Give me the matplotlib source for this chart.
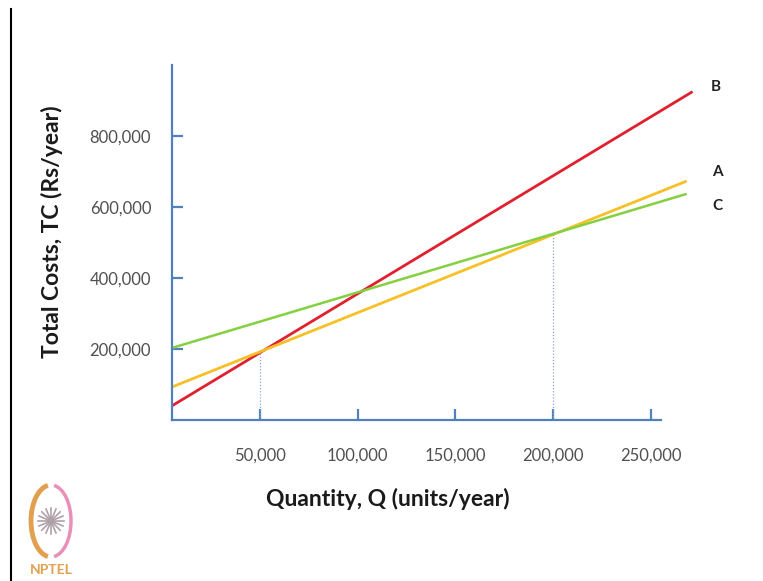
import matplotlib.pyplot as plt
from matplotlib.lines import Line2D
from matplotlib.patches import Arc, Circle
from matplotlib.ticker import FuncFormatter
import numpy as np

# quantity range covered by each cost line (units/year)
q_red = [5000, 271500]
q_other = [5000, 268500]

# total cost at the two ends of each line (Rs/year)
tc_a = [93000, 673000]
tc_b = [40000, 925000]
tc_c = [203000, 637000]

# break-even points marked with dotted drop lines
be_q = [50000, 200000]
be_tc = [193000, 524000]

x_ticks = [50000, 100000, 150000, 200000, 250000]
y_ticks = [200000, 400000, 600000, 800000]

W, H = 763, 581
fig = plt.figure(figsize=(W / 100, H / 100), dpi=100)
fig.patch.set_facecolor('white')
plt.rcParams['font.family'] = ['Lato', 'DejaVu Sans']

# axes box in pixels: left 172, right 699, top 65, bottom 420
ax = fig.add_axes([172 / W, (H - 420) / H, (699.4 - 172) / W, (420 - 65) / H])
ax.set_xlim(5000, 275000)
ax.set_ylim(0, 1000000)

axis_blue = '#4f81bd'
for side in ['top', 'right']:
    ax.spines[side].set_visible(False)
for side in ['left', 'bottom']:
    ax.spines[side].set_color(axis_blue)
    ax.spines[side].set_linewidth(1.6)
ax.spines['bottom'].set_bounds(5000, 255300)

ax.plot(q_red, tc_b, color='#e0202e', lw=2.0, solid_capstyle='butt')
ax.plot(q_other, tc_a, color='#f6c026', lw=2.0, solid_capstyle='butt')
ax.plot(q_other, tc_c, color='#84d040', lw=1.8, solid_capstyle='butt')

for q, tc in zip(be_q, be_tc):
    ax.plot([q, q], [0, tc], color='#8ea4c4', lw=0.9, ls=(0, (1, 1.5)))

ax.set_xticks(x_ticks)
ax.set_yticks(y_ticks)
fmt = FuncFormatter(lambda v, p: f'{int(v):,}')
ax.xaxis.set_major_formatter(fmt)
ax.yaxis.set_major_formatter(fmt)
ax.tick_params(axis='both', direction='in', color=axis_blue, width=1.6,
               length=8, labelcolor='#505050', labelsize=12)
ax.tick_params(axis='x', pad=20)
ax.tick_params(axis='y', pad=15)

label_font = dict(fontsize=11, fontweight='bold', color='#222222',
                  ha='left', va='center', clip_on=False)
ax.text(281000, 938000, 'B', **label_font)
ax.text(281500, 698000, 'A', **label_font)
ax.text(281500, 603000, 'C', **label_font)

fig.text(388 / W, 1 - 499 / H, 'Quantity, Q (units/year)', fontsize=16.5,
         fontweight='bold', color='#1a1a1a', ha='center', va='center')
fig.text(52 / W, 1 - 232 / H, 'Total Costs, TC (Rs/year)', fontsize=16.5,
         fontweight='bold', color='#1a1a1a', ha='center', va='center',
         rotation=90)

# thin black frame line on the left edge
fig.add_artist(Line2D([11 / W, 11 / W], [0, 1 - 9 / H], color='black', lw=1.5))

# NPTEL emblem in the bottom-left corner
logo = fig.add_axes([18 / W, 0, 66 / W, 110 / H])
logo.set_xlim(0, 66)
logo.set_ylim(0, 110)
logo.set_aspect('equal')
logo.axis('off')
cx, cy = 33, 60
logo.add_patch(Arc((cx, cy), 40, 72, theta1=95, theta2=265, color='#e0a050', lw=3.5))
logo.add_patch(Arc((cx, cy), 40, 72, theta1=-85, theta2=85, color='#e890b8', lw=2.5))
for ang in np.linspace(0, np.pi, 8, endpoint=False):
    dx, dy = 13 * np.cos(ang), 13 * np.sin(ang)
    logo.plot([cx - dx, cx + dx], [cy - dy, cy + dy], color='#b0a0a8', lw=1.2)
logo.add_patch(Circle((cx, cy), 3, color='#e890b8'))
logo.text(cx, 11, 'NPTEL', fontsize=10, fontweight='bold', color='#e0a050',
          ha='center', va='center')

fig.savefig('out.png', dpi=100)
